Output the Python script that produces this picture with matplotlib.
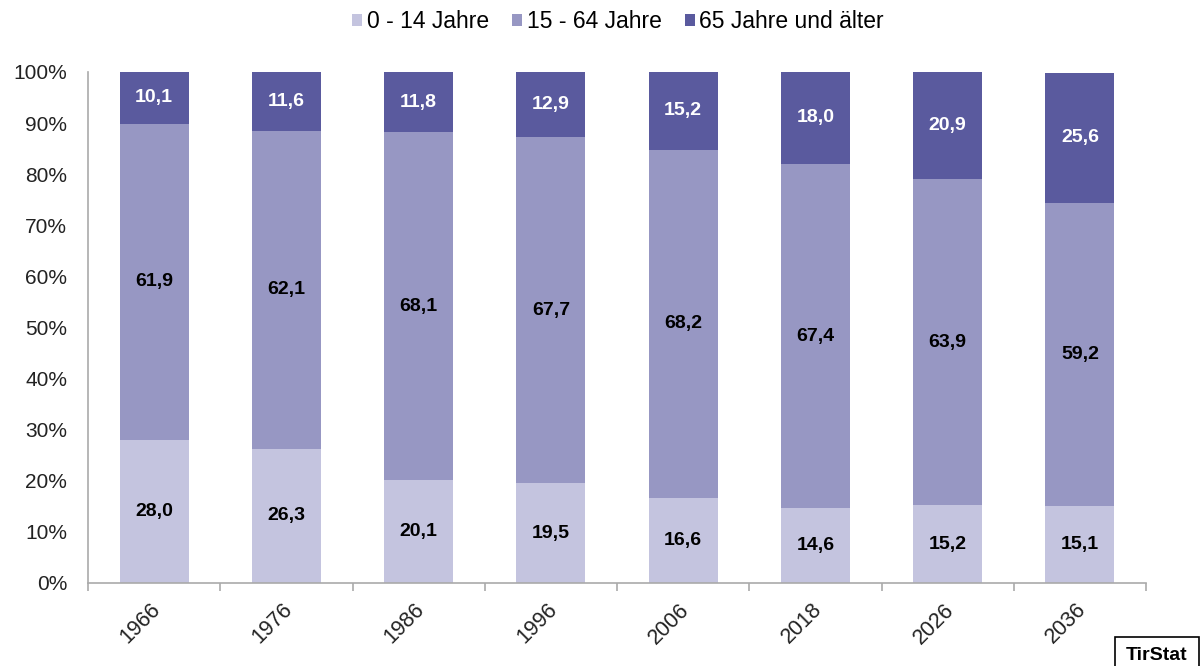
import matplotlib
matplotlib.use("Agg")
import matplotlib.pyplot as plt
import matplotlib.transforms as mtrans
import numpy as np

plt.rcParams['font.family'] = ['Liberation Sans', 'DejaVu Sans']

years = ["1966", "1976", "1986", "1996", "2006", "2018", "2026", "2036"]
young = [28.0, 26.3, 20.1, 19.5, 16.6, 14.6, 15.2, 15.1]
middle = [61.9, 62.1, 68.1, 67.7, 68.2, 67.4, 63.9, 59.2]
old = [10.1, 11.6, 11.8, 12.9, 15.2, 18.0, 20.9, 25.6]
series_names = ["0 - 14 Jahre", "15 - 64 Jahre", "65 Jahre und älter"]
colors = ["#C4C4DF", "#9797C3", "#5A5A9E"]

fig = plt.figure(figsize=(12.01, 6.66), dpi=100)
ax = fig.add_axes([88/1201, 1-583/666, (1146-88)/1201, (583-72)/666])

x = np.arange(len(years))
w = 0.52
bottom = np.zeros(len(years))
for vals, name, col, tc in zip([young, middle, old], series_names, colors, ["black", "black", "white"]):
    vals = np.array(vals)
    ax.bar(x, vals, w, bottom=bottom, color=col, label=name, linewidth=0)
    for xi, b, v in zip(x, bottom, vals):
        ax.text(xi, b + v/2, f"{v:.1f}".replace(".", ","), ha="center", va="center",
                fontsize=14, fontweight="bold", color=tc)
    bottom = bottom + vals

ax.set_xlim(-0.5, len(years) - 0.5)
ax.set_ylim(0, 100)
ax.set_yticks(np.arange(0, 101, 10))
ax.set_yticklabels([f"{v}%" for v in range(0, 101, 10)], fontsize=15, color="#222222")
ax.tick_params(axis="y", length=0, pad=15)
ax.set_xticks(x)
ax.set_xticklabels(years, rotation=45, fontsize=15.5, color="#222222",
                   ha="right", va="center", rotation_mode="anchor")
ax.tick_params(axis="x", which="major", length=0, pad=17)
shift = mtrans.ScaledTranslation(3/100, 0, fig.dpi_scale_trans)
for lab in ax.get_xticklabels():
    lab.set_transform(lab.get_transform() + shift)
ax.set_xticks(np.arange(-0.5, len(years)), minor=True)
ax.tick_params(axis="x", which="minor", length=6, color="#AAAAAA", width=1.2)
for s in ["top", "right"]:
    ax.spines[s].set_visible(False)
for s in ["left", "bottom"]:
    ax.spines[s].set_color("#AAAAAA")
    ax.spines[s].set_linewidth(1.2)

fig.legend(*ax.get_legend_handles_labels(), loc="center", bbox_to_anchor=(618/1201, 1-22/666),
           ncol=3, frameon=False, fontsize=16.5, handlelength=0.45, handleheight=0.45,
           handletextpad=0.2, columnspacing=1.0)

fig.text(1157/1201, 1-656/666, "TirStat", ha="center", va="center", fontsize=14, fontweight="bold",
         bbox=dict(boxstyle="square,pad=0.55", facecolor="white", edgecolor="black", linewidth=1.2))

fig.savefig("out.png", dpi=100)
